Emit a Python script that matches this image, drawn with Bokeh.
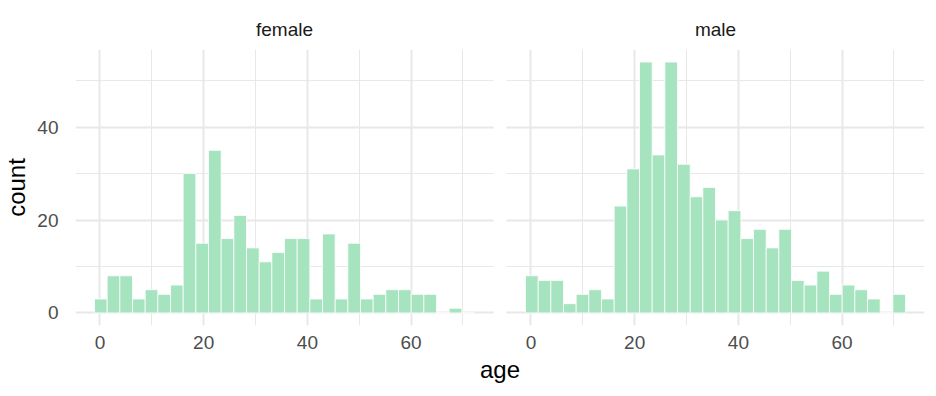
from bokeh.plotting import figure
from bokeh.models import FixedTicker, Range1d, LinearAxis, CustomJSTickFormatter
from bokeh.embed import file_html
from bokeh.resources import INLINE

# ---- data ----
age_min = 0.17
age_max = 71.0
n_bins = 30
female_counts = [3, 8, 8, 3, 5, 4, 6, 30, 15, 35, 16, 21, 14, 11, 13, 16, 16, 3, 17, 3,
                 15, 3, 4, 5, 5, 4, 4, 0, 1, 0]
male_counts = [8, 7, 7, 2, 4, 5, 3, 23, 31, 54, 34, 54, 32, 25, 27, 20, 22, 16, 18, 14,
               18, 7, 6, 9, 4, 6, 5, 3, 0, 4]
panels = ["female", "male"]
x_ticks = [0, 20, 40, 60]
x_minor = [10, 30, 50, 70]
y_ticks = [0, 20, 40]
y_minor = [10, 30, 50]
x_title = "age"
y_title = "count"

# ---- bins ----
bw = (age_max - age_min) / (n_bins - 1)
lefts = [age_min - bw / 2 + i * bw for i in range(n_bins)]
rights = [l + bw for l in lefts]

xspan = rights[-1] - lefts[0]
x0, x1 = lefts[0] - 0.05 * xspan, rights[-1] + 0.05 * xspan
ymax = max(max(female_counts), max(male_counts))
y0, y1 = -0.05 * ymax, 1.05 * ymax

# facet layout: two panels of PANEL_W px separated by GAP px in one frame
PANEL_W = 418
GAP = 13
panel_units = x1 - x0
off = panel_units * (PANEL_W + GAP) / PANEL_W   # data offset of second panel

FILL = "#a6e3bf"
GRID = "#e8e8e8"
FONT = "Liberation Sans"

p = figure(frame_width=2 * PANEL_W + GAP, frame_height=276,
           x_range=Range1d(x0, off + x1), y_range=Range1d(y0, y1),
           output_backend="svg", toolbar_location=None,
           min_border_left=68, min_border_right=4,
           min_border_top=49, min_border_bottom=30)
p.outline_line_color = None
p.background_fill_color = "white"
p.border_fill_color = "white"

# gap between facets (hides the grid there)
p.quad(left=[x1], right=[off + x0], top=[y1], bottom=[y0],
       fill_color="white", line_color=None)

for k, counts in enumerate([female_counts, male_counts]):
    shift = k * off
    p.quad(left=[l + shift for l in lefts], right=[r + shift for r in rights],
           top=counts, bottom=0,
           fill_color=FILL, line_color="white", line_width=0.8)

# bottom x axis and y axis (the figure's own)
xax = p.below[0]
yax = p.left[0]

all_x_major = x_ticks + [t + off for t in x_ticks]
all_x_minor = x_minor + [t + off for t in x_minor]
xax.ticker = FixedTicker(ticks=all_x_major, minor_ticks=all_x_minor)
p.xgrid.ticker = FixedTicker(ticks=all_x_major, minor_ticks=all_x_minor)
xax.formatter = CustomJSTickFormatter(
    args=dict(off=off),
    code="return (tick > off - 10 ? tick - off : tick).toFixed(0);")
yax.ticker = FixedTicker(ticks=y_ticks, minor_ticks=y_minor)
p.ygrid.ticker = FixedTicker(ticks=y_ticks, minor_ticks=y_minor)

for g in (p.xgrid, p.ygrid):
    g.grid_line_color = GRID
    g.grid_line_width = 2
    g.minor_grid_line_color = GRID
    g.minor_grid_line_width = 1
for ax in (xax, yax):
    ax.axis_line_color = None
    ax.major_tick_line_color = None
    ax.minor_tick_line_color = None
    ax.major_label_text_font = FONT
    ax.major_label_text_font_size = "19px"
    ax.major_label_text_color = "#4d4d4d"
    ax.axis_label_text_font = FONT
    ax.axis_label_text_font_size = "24px"
    ax.axis_label_text_font_style = "normal"
    ax.axis_label_text_color = "black"
xax.major_tick_out = 0
xax.major_tick_in = 0
xax.minor_tick_out = 0
xax.minor_tick_in = 0
xax.major_label_standoff = 10
xax.axis_label_standoff = 4
yax.major_label_standoff = 11
yax.axis_label_standoff = 4
xax.axis_label = x_title
yax.axis_label = y_title

# facet strip labels as an axis above the panels
strip = LinearAxis(
    ticker=FixedTicker(ticks=[(x0 + x1) / 2, off + (x0 + x1) / 2], minor_ticks=[]),
    formatter=CustomJSTickFormatter(
        args=dict(off=off, a=panels[0], b=panels[1]),
        code="return tick < off ? a : b;"),
    axis_line_color=None, major_tick_line_color=None, minor_tick_line_color=None,
    major_tick_out=0, major_tick_in=0, minor_tick_out=0, minor_tick_in=0,
    major_label_standoff=10, major_label_text_font=FONT,
    major_label_text_font_size="19px", major_label_text_color="#1a1a1a")
p.add_layout(strip, "above")

open("out.html", "w").write(file_html(p, INLINE))
